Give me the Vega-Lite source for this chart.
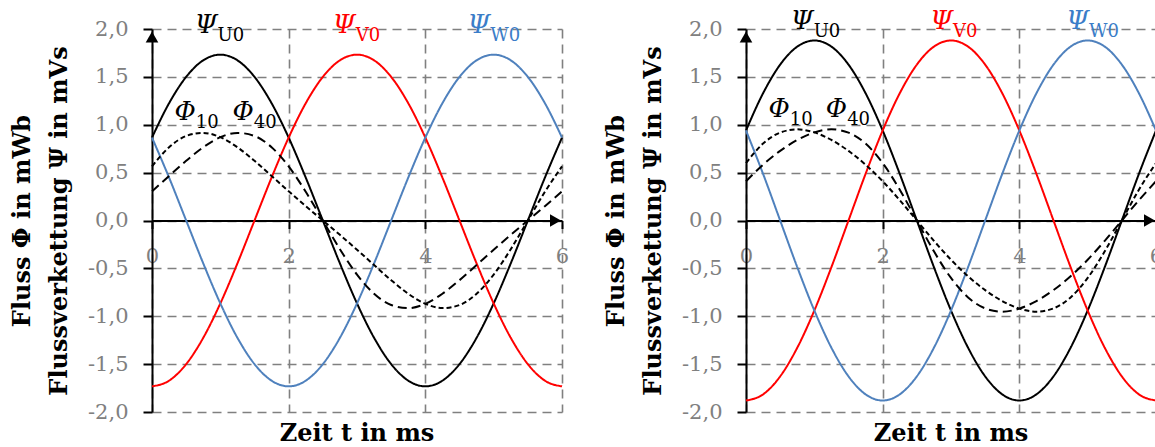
{
  "$schema": "https://vega.github.io/schema/vega-lite/v6.json",
  "background": "white",
  "padding": {"left": 10, "top": 8, "right": 0, "bottom": 0},
  "spacing": 35,
  "config": {
    "view": {"stroke": null},
    "font": "DejaVu Serif",
    "axis": {"labelFont": "DejaVu Serif", "titleFont": "DejaVu Serif"}
  },
  "datasets": {
    "left": [
      {"t":0,"U":0.866,"V":-1.732,"W":0.866,"P10":0.565,"P40":0.305},
      {"t":0.25,"U":1.225,"V":-1.673,"W":0.448,"P10":0.765,"P40":0.465},
      {"t":0.5,"U":1.5,"V":-1.5,"W":0,"P10":0.883,"P40":0.623},
      {"t":0.75,"U":1.673,"V":-1.225,"W":-0.448,"P10":0.915,"P40":0.765},
      {"t":1,"U":1.732,"V":-0.866,"W":-0.866,"P10":0.87,"P40":0.87},
      {"t":1.25,"U":1.673,"V":-0.448,"W":-1.225,"P10":0.765,"P40":0.915},
      {"t":1.5,"U":1.5,"V":0,"W":-1.5,"P10":0.623,"P40":0.883},
      {"t":1.75,"U":1.225,"V":0.448,"W":-1.673,"P10":0.465,"P40":0.765},
      {"t":2,"U":0.866,"V":0.866,"W":-1.732,"P10":0.305,"P40":0.565},
      {"t":2.25,"U":0.448,"V":1.225,"W":-1.673,"P10":0.15,"P40":0.3},
      {"t":2.5,"U":0,"V":1.5,"W":-1.5,"P10":0,"P40":0},
      {"t":2.75,"U":-0.448,"V":1.673,"W":-1.225,"P10":-0.15,"P40":-0.3},
      {"t":3,"U":-0.866,"V":1.732,"W":-0.866,"P10":-0.305,"P40":-0.565},
      {"t":3.25,"U":-1.225,"V":1.673,"W":-0.448,"P10":-0.465,"P40":-0.765},
      {"t":3.5,"U":-1.5,"V":1.5,"W":0,"P10":-0.623,"P40":-0.883},
      {"t":3.75,"U":-1.673,"V":1.225,"W":0.448,"P10":-0.765,"P40":-0.915},
      {"t":4,"U":-1.732,"V":0.866,"W":0.866,"P10":-0.87,"P40":-0.87},
      {"t":4.25,"U":-1.673,"V":0.448,"W":1.225,"P10":-0.915,"P40":-0.765},
      {"t":4.5,"U":-1.5,"V":0,"W":1.5,"P10":-0.883,"P40":-0.623},
      {"t":4.75,"U":-1.225,"V":-0.448,"W":1.673,"P10":-0.765,"P40":-0.465},
      {"t":5,"U":-0.866,"V":-0.866,"W":1.732,"P10":-0.565,"P40":-0.305},
      {"t":5.25,"U":-0.448,"V":-1.225,"W":1.673,"P10":-0.3,"P40":-0.15},
      {"t":5.5,"U":0,"V":-1.5,"W":1.5,"P10":0,"P40":0},
      {"t":5.75,"U":0.448,"V":-1.673,"W":1.225,"P10":0.3,"P40":0.15},
      {"t":6,"U":0.866,"V":-1.732,"W":0.866,"P10":0.565,"P40":0.305}
    ],
    "right": [
      {"t":0,"U":0.94,"V":-1.88,"W":0.94,"P10":0.6,"P40":0.41},
      {"t":0.25,"U":1.329,"V":-1.816,"W":0.487,"P10":0.803,"P40":0.583},
      {"t":0.5,"U":1.628,"V":-1.628,"W":0,"P10":0.918,"P40":0.727},
      {"t":0.75,"U":1.816,"V":-1.329,"W":-0.487,"P10":0.952,"P40":0.841},
      {"t":1,"U":1.88,"V":-0.94,"W":-0.94,"P10":0.92,"P40":0.92},
      {"t":1.25,"U":1.816,"V":-0.487,"W":-1.329,"P10":0.841,"P40":0.952},
      {"t":1.5,"U":1.628,"V":0,"W":-1.628,"P10":0.727,"P40":0.918},
      {"t":1.75,"U":1.329,"V":0.487,"W":-1.816,"P10":0.583,"P40":0.803},
      {"t":2,"U":0.94,"V":0.94,"W":-1.88,"P10":0.41,"P40":0.6},
      {"t":2.25,"U":0.487,"V":1.329,"W":-1.816,"P10":0.212,"P40":0.322},
      {"t":2.5,"U":0,"V":1.628,"W":-1.628,"P10":0,"P40":0},
      {"t":2.75,"U":-0.487,"V":1.816,"W":-1.329,"P10":-0.212,"P40":-0.322},
      {"t":3,"U":-0.94,"V":1.88,"W":-0.94,"P10":-0.41,"P40":-0.6},
      {"t":3.25,"U":-1.329,"V":1.816,"W":-0.487,"P10":-0.583,"P40":-0.803},
      {"t":3.5,"U":-1.628,"V":1.628,"W":0,"P10":-0.727,"P40":-0.918},
      {"t":3.75,"U":-1.816,"V":1.329,"W":0.487,"P10":-0.841,"P40":-0.952},
      {"t":4,"U":-1.88,"V":0.94,"W":0.94,"P10":-0.92,"P40":-0.92},
      {"t":4.25,"U":-1.816,"V":0.487,"W":1.329,"P10":-0.952,"P40":-0.841},
      {"t":4.5,"U":-1.628,"V":0,"W":1.628,"P10":-0.918,"P40":-0.727},
      {"t":4.75,"U":-1.329,"V":-0.487,"W":1.816,"P10":-0.803,"P40":-0.583},
      {"t":5,"U":-0.94,"V":-0.94,"W":1.88,"P10":-0.6,"P40":-0.41},
      {"t":5.25,"U":-0.487,"V":-1.329,"W":1.816,"P10":-0.322,"P40":-0.212},
      {"t":5.5,"U":0,"V":-1.628,"W":1.628,"P10":0,"P40":0},
      {"t":5.75,"U":0.487,"V":-1.816,"W":1.329,"P10":0.322,"P40":0.212},
      {"t":6,"U":0.94,"V":-1.88,"W":0.94,"P10":0.6,"P40":0.41}
    ],
    "labels": [
      {"panel":"L","series":"U","sym":"Ψ","sub":"U0","t":0.96,"v":1.96},
      {"panel":"L","series":"V","sym":"Ψ","sub":"V0","t":2.98,"v":1.96},
      {"panel":"L","series":"W","sym":"Ψ","sub":"W0","t":4.95,"v":1.96},
      {"panel":"L","series":"P10","sym":"Φ","sub":"10","t":0.64,"v":1.05},
      {"panel":"L","series":"P40","sym":"Φ","sub":"40","t":1.49,"v":1.05},
      {"panel":"R","series":"U","sym":"Ψ","sub":"U0","t":0.99,"v":2.0},
      {"panel":"R","series":"V","sym":"Ψ","sub":"V0","t":3.03,"v":2.0},
      {"panel":"R","series":"W","sym":"Ψ","sub":"W0","t":5.02,"v":2.0},
      {"panel":"R","series":"P10","sym":"Φ","sub":"10","t":0.64,"v":1.08},
      {"panel":"R","series":"P40","sym":"Φ","sub":"40","t":1.48,"v":1.08}
    ]
  },
  "hconcat": [
    {
      "width": 410,
      "height": 383,
      "title": {"text": "Zeit t in ms", "orient": "bottom", "anchor": "middle", "frame": "group", "font": "DejaVu Serif", "fontSize": 24, "fontWeight": "bold", "color": "black", "offset": 0},
      "encoding": {
        "x": {"field": "t", "type": "quantitative", "scale": {"domain": [0, 6], "nice": false, "zero": false},
          "axis": {"orient": "bottom", "offset": -191.5, "values": [0, 2, 4, 6], "format": "d", "title": null, "labelFlush": false, "labelOverlap": false,
            "grid": true, "gridDash": [9, 6], "gridColor": "#808080", "gridWidth": 1.6, "gridOpacity": 1,
            "domainColor": "black", "domainWidth": 2, "tickColor": "black", "tickWidth": 2, "tickSize": 8,
            "labelColor": "#808080", "labelFontSize": 21, "labelPadding": 17}},
        "y": {"field": "v", "type": "quantitative", "scale": {"domain": [-2, 2], "nice": false},
          "axis": {"values": [-2, -1.5, -1, -0.5, 0, 0.5, 1, 1.5, 2], "format": ".1f", "labelExpr": "replace(replace(datum.label, '.', ','), '−', '-')",
            "labelFlush": false, "labelOverlap": false,
            "grid": true, "gridDash": [9, 6], "gridColor": "#808080", "gridWidth": 1.6, "gridOpacity": 1,
            "domainColor": "black", "domainWidth": 2, "tickColor": "black", "tickWidth": 2, "tickSize": 9,
            "labelColor": "#808080", "labelFontSize": 21, "labelPadding": 15,
            "title": ["Fluss Φ in mWb", "Flussverkettung Ψ in mVs"], "titleFontSize": 24, "titleFontWeight": "bold", "titleColor": "black", "titleLineHeight": 37, "titlePadding": 16}}
      },
      "resolve": {"scale": {"color": "independent"}},
      "layer": [
        {
          "data": {"name": "left"},
          "transform": [{"fold": ["U", "V", "W", "P10", "P40"], "as": ["series", "v"]}],
          "mark": {"type": "line", "strokeWidth": 2, "interpolate": "monotone"},
          "encoding": {
            "color": {"field": "series", "type": "nominal", "scale": {"domain": ["U", "V", "W", "P10", "P40"], "range": ["#000000", "#ff0000", "#4f81bd", "#000000", "#000000"]}, "legend": null},
            "strokeDash": {"field": "series", "type": "nominal", "scale": {"domain": ["U", "V", "W", "P10", "P40"], "range": [[1, 0], [1, 0], [1, 0], [5, 3], [9, 5]]}, "legend": null}
          }
        },
        {
          "data": {"name": "labels"},
          "transform": [{"filter": "datum.panel === 'L'"}],
          "mark": {"type": "text", "align": "right", "baseline": "alphabetic", "font": "DejaVu Serif", "fontStyle": "italic", "fontSize": 26},
          "encoding": {
            "text": {"field": "sym"},
            "color": {"field": "series", "type": "nominal", "scale": {"domain": ["U", "V", "W", "P10", "P40"], "range": ["#000000", "#ff0000", "#3b7dc8", "#000000", "#000000"]}, "legend": null}
          }
        },
        {
          "data": {"name": "labels"},
          "transform": [{"filter": "datum.panel === 'L'"}],
          "mark": {"type": "text", "align": "left", "baseline": "alphabetic", "dy": 8, "font": "DejaVu Serif", "fontSize": 18},
          "encoding": {
            "text": {"field": "sub"},
            "color": {"field": "series", "type": "nominal", "scale": {"domain": ["U", "V", "W", "P10", "P40"], "range": ["#000000", "#ff0000", "#3b7dc8", "#000000", "#000000"]}, "legend": null}
          }
        },
        {
          "data": {"values": [{"t": 0, "v": 2}]},
          "mark": {"type": "point", "shape": "triangle-up", "filled": true, "color": "black", "opacity": 1, "size": 160, "yOffset": 8}
        },
        {
          "data": {"values": [{"t": 6, "v": 0}]},
          "mark": {"type": "point", "shape": "triangle-right", "filled": true, "color": "black", "opacity": 1, "size": 160, "xOffset": -6.5}
        }
      ]
    },
    {
      "width": 410,
      "height": 383,
      "title": {"text": "Zeit t in ms", "orient": "bottom", "anchor": "middle", "frame": "group", "font": "DejaVu Serif", "fontSize": 24, "fontWeight": "bold", "color": "black", "offset": 0},
      "encoding": {
        "x": {"field": "t", "type": "quantitative", "scale": {"domain": [0, 6], "nice": false, "zero": false},
          "axis": {"orient": "bottom", "offset": -191.5, "values": [0, 2, 4, 6], "format": "d", "title": null, "labelFlush": false, "labelOverlap": false,
            "grid": true, "gridDash": [9, 6], "gridColor": "#808080", "gridWidth": 1.6, "gridOpacity": 1,
            "domainColor": "black", "domainWidth": 2, "tickColor": "black", "tickWidth": 2, "tickSize": 8,
            "labelColor": "#808080", "labelFontSize": 21, "labelPadding": 17}},
        "y": {"field": "v", "type": "quantitative", "scale": {"domain": [-2, 2], "nice": false},
          "axis": {"values": [-2, -1.5, -1, -0.5, 0, 0.5, 1, 1.5, 2], "format": ".1f", "labelExpr": "replace(replace(datum.label, '.', ','), '−', '-')",
            "labelFlush": false, "labelOverlap": false,
            "grid": true, "gridDash": [9, 6], "gridColor": "#808080", "gridWidth": 1.6, "gridOpacity": 1,
            "domainColor": "black", "domainWidth": 2, "tickColor": "black", "tickWidth": 2, "tickSize": 9,
            "labelColor": "#808080", "labelFontSize": 21, "labelPadding": 15,
            "title": ["Fluss Φ in mWb", "Flussverkettung Ψ in mVs"], "titleFontSize": 24, "titleFontWeight": "bold", "titleColor": "black", "titleLineHeight": 37, "titlePadding": 16}}
      },
      "resolve": {"scale": {"color": "independent"}},
      "layer": [
        {
          "data": {"name": "right"},
          "transform": [{"fold": ["U", "V", "W", "P10", "P40"], "as": ["series", "v"]}],
          "mark": {"type": "line", "strokeWidth": 2, "interpolate": "monotone"},
          "encoding": {
            "color": {"field": "series", "type": "nominal", "scale": {"domain": ["U", "V", "W", "P10", "P40"], "range": ["#000000", "#ff0000", "#4f81bd", "#000000", "#000000"]}, "legend": null},
            "strokeDash": {"field": "series", "type": "nominal", "scale": {"domain": ["U", "V", "W", "P10", "P40"], "range": [[1, 0], [1, 0], [1, 0], [5, 3], [9, 5]]}, "legend": null}
          }
        },
        {
          "data": {"name": "labels"},
          "transform": [{"filter": "datum.panel === 'R'"}],
          "mark": {"type": "text", "align": "right", "baseline": "alphabetic", "font": "DejaVu Serif", "fontStyle": "italic", "fontSize": 26},
          "encoding": {
            "text": {"field": "sym"},
            "color": {"field": "series", "type": "nominal", "scale": {"domain": ["U", "V", "W", "P10", "P40"], "range": ["#000000", "#ff0000", "#3b7dc8", "#000000", "#000000"]}, "legend": null}
          }
        },
        {
          "data": {"name": "labels"},
          "transform": [{"filter": "datum.panel === 'R'"}],
          "mark": {"type": "text", "align": "left", "baseline": "alphabetic", "dy": 8, "font": "DejaVu Serif", "fontSize": 18},
          "encoding": {
            "text": {"field": "sub"},
            "color": {"field": "series", "type": "nominal", "scale": {"domain": ["U", "V", "W", "P10", "P40"], "range": ["#000000", "#ff0000", "#3b7dc8", "#000000", "#000000"]}, "legend": null}
          }
        },
        {
          "data": {"values": [{"t": 0, "v": 2}]},
          "mark": {"type": "point", "shape": "triangle-up", "filled": true, "color": "black", "opacity": 1, "size": 160, "yOffset": 8}
        },
        {
          "data": {"values": [{"t": 6, "v": 0}]},
          "mark": {"type": "point", "shape": "triangle-right", "filled": true, "color": "black", "opacity": 1, "size": 160, "xOffset": -6.5}
        }
      ]
    }
  ]
}
